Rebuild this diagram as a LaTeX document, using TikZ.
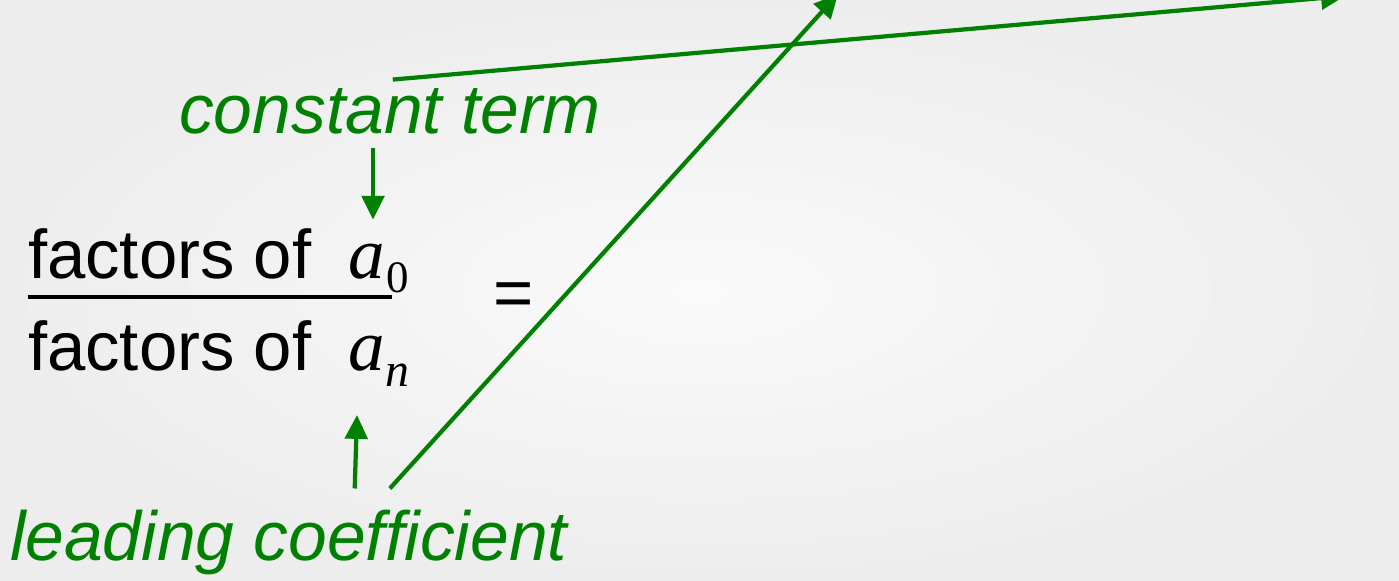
\documentclass[tikz,border=0pt]{standalone}
\usepackage{fontspec}
\setmainfont{Liberation Sans}
\newfontfamily\tnr{Liberation Serif}
\usetikzlibrary{arrows.meta, positioning, calc}
\definecolor{lbl}{HTML}{008000}
\definecolor{bgin}{HTML}{FAFAFA}
\definecolor{bgout}{HTML}{EDEDED}

\begin{document}
\begin{tikzpicture}[
    x=0.025cm, y=-0.025cm,
    every node/.style={inner sep=0pt, outer sep=0pt},
    words/.style={font=\fontsize{49}{58}\selectfont},
    note/.style={text=lbl, font=\fontsize{49.5}{58}\selectfont\itshape},
    coef/.style={font=\fontsize{52}{60}\selectfont\tnr\itshape},
    arr/.style={-{Triangle[length=17pt, width=16pt]}, lbl, line width=3pt}
]
    % background
    \fill[inner color=bgin, outer color=bgout] (0,0) rectangle (1399,580);
    \clip (0,0) rectangle (1399,580);

    \node[words, anchor=base west] (num) at (28,278) {factors of};
    \node[coef, anchor=base west]  (a0)  at (348,278) {a\kern1.5pt\raisebox{-10pt}{\fontsize{32}{40}\selectfont\upshape 0}};
    \node[words, anchor=base west] (den) at (28,370) {factors of};
    \node[coef, anchor=base west]  (an)  at (348,370) {a\kern1pt\raisebox{-12pt}{\fontsize{34}{40}\selectfont n}};
    \draw[line width=2.8pt] (28,297) -- (392,297);
    \node[words] (eq) at (514,300) {=};

    \node[note, anchor=base] (ct) at (390,133) {constant term};
    \node[note, anchor=base west] (lc) at (10,560) {leading coefficient};

    \coordinate (tipA) at (838,-6);
    \coordinate (tipB) at (1345,-4);

    \draw[arr] ([yshift=-10pt]ct.south -| 373,0) -- ([yshift=17pt]a0.north -| 373,0);
    \draw[arr] ([xshift=47pt,yshift=15pt]lc.north) -- ([yshift=-20pt]an.south -| 357,0);
    \draw[arr] ([xshift=72pt,yshift=15pt]lc.north) -- (tipA);
    \draw[arr] ([xshift=2pt,yshift=6pt]ct.north) -- (tipB);
\end{tikzpicture}
\end{document}
